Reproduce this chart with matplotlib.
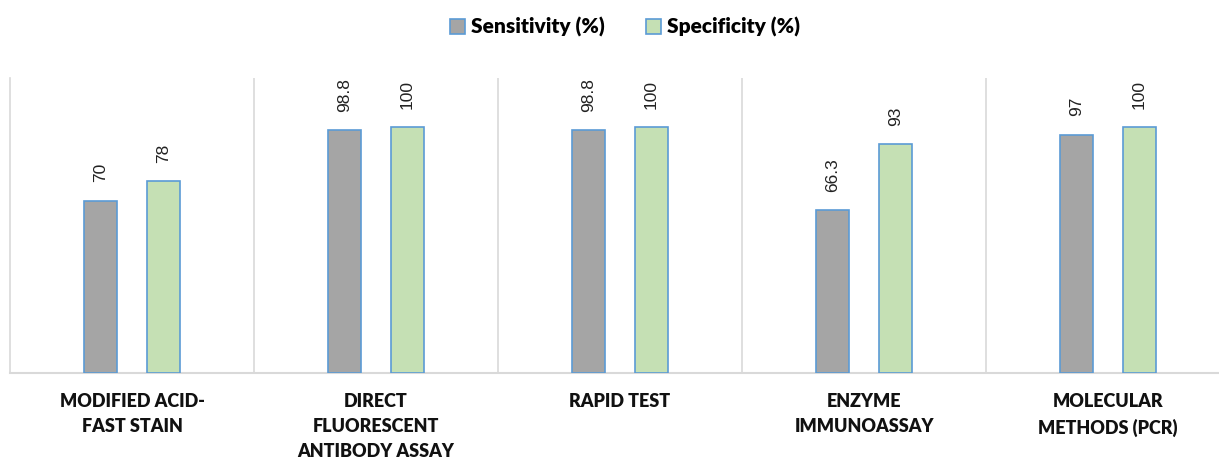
import matplotlib.pyplot as plt
import numpy as np

categories = ["MODIFIED ACID-\nFAST STAIN", "DIRECT\nFLUORESCENT\nANTIBODY ASSAY",
              "RAPID TEST", "ENZYME\nIMMUNOASSAY", "MOLECULAR\nMETHODS (PCR)"]
sensitivity = [70, 98.8, 98.8, 66.3, 97]
specificity = [78, 100, 100, 93, 100]
sens_labels = ["70", "98.8", "98.8", "66.3", "97"]
spec_labels = ["78", "100", "100", "93", "100"]

fig = plt.figure(figsize=(12.19, 4.62), dpi=100)
ax = fig.add_axes([10 / 1219, 89 / 462, 1220 / 1219, 295 / 462])

x = np.arange(len(categories))
w = 0.135
off = 0.129
edge = "#5B9BD5"
b1 = ax.bar(x - off, sensitivity, w, color="#A5A5A5", edgecolor=edge, linewidth=1.2,
            label="Sensitivity (%)", zorder=3)
b2 = ax.bar(x + off, specificity, w, color="#C5E0B4", edgecolor=edge, linewidth=1.2,
            label="Specificity (%)", zorder=3)

for bars, labs in ((b1, sens_labels), (b2, spec_labels)):
    for bar, lab in zip(bars, labs):
        ax.text(bar.get_x() + bar.get_width() / 2, bar.get_height() + 7.5, lab,
                rotation=90, ha="center", va="bottom", fontsize=12.5,
                family="Liberation Sans", color="#222222")

ax.set_xlim(-0.5, len(categories) - 0.5)
ax.set_ylim(0, 120)
ax.set_yticks([])
ax.set_xticks([])
for b in np.arange(0.5, len(categories) - 0.5, 1):
    ax.axvline(b, color="#D9D9D9", linewidth=1.2, zorder=1)
for s in ["top", "right"]:
    ax.spines[s].set_visible(False)
ax.spines["left"].set_color("#D9D9D9")
ax.spines["left"].set_linewidth(1.2)
ax.spines["bottom"].set_color("#D9D9D9")
ax.spines["bottom"].set_linewidth(1.5)

for xi, cat in zip(x, categories):
    ax.text(xi, -8, cat, ha="center", va="top", fontsize=13, fontweight="heavy",
            family="Lato", linespacing=1.6, color="#111111")

fig.legend(handles=[b1, b2], loc="center", bbox_to_anchor=(625 / 1219, 1 - 27 / 462),
           ncol=2, frameon=False, prop={"family": "Lato", "weight": "heavy", "size": 15},
           handlelength=0.7, handleheight=0.7, handletextpad=0.3, columnspacing=2.0)

fig.savefig("out.png", dpi=100)
